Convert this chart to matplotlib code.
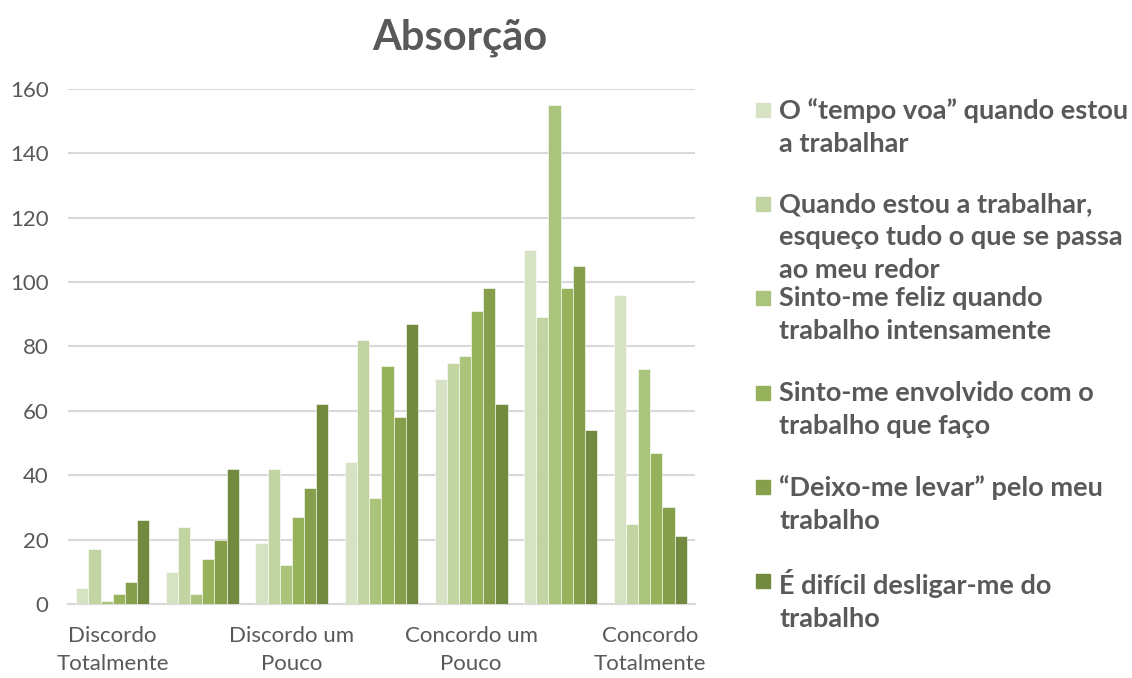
import matplotlib
matplotlib.use('Agg')
import matplotlib.pyplot as plt
import numpy as np

# Categories (only every other label is shown in the original)
tick_labels = ['Discordo\nTotalmente', '', 'Discordo um\nPouco', '',
               'Concordo um\nPouco', '', 'Concordo\nTotalmente']

series_names = [
    'O “tempo voa” quando estou\na trabalhar',
    'Quando estou a trabalhar,\nesqueço tudo o que se passa\nao meu redor',
    'Sinto-me feliz quando\ntrabalho intensamente',
    'Sinto-me envolvido com o\ntrabalho que faço',
    '“Deixo-me levar” pelo meu\ntrabalho',
    'É difícil desligar-me do\ntrabalho',
]

tempo_voa = [5, 10, 19, 44, 70, 110, 96]
esqueco_tudo = [17, 24, 42, 82, 75, 89, 25]
feliz = [1, 3, 12, 33, 77, 155, 73]
envolvido = [3, 14, 27, 74, 91, 98, 47]
deixo_levar = [7, 20, 36, 58, 98, 105, 30]
dificil_desligar = [26, 42, 62, 87, 62, 54, 21]

y_ticks = [0, 20, 40, 60, 80, 100, 120, 140, 160]

colors = ['#D7E1C3', '#C3D4A3', '#ABC47B', '#96B25A', '#859F4B', '#728A40']
text_gray = '#595959'
font = 'Lato'

series = [tempo_voa, esqueco_tudo, feliz, envolvido, deixo_levar, dificil_desligar]

fig = plt.figure(figsize=(11.32, 6.78), dpi=100)
ax = fig.add_axes([0.060, 0.109, 0.554, 0.760])

x = np.arange(len(tick_labels))
w = 0.815 / len(series)
for i, vals in enumerate(series):
    ax.bar(x + (i - 2.5) * w, vals, width=w, color=colors[i],
           edgecolor='white', linewidth=0.4, zorder=3)

ax.set_xlim(-0.5, len(tick_labels) - 0.5)
ax.set_ylim(0, 160)
ax.set_yticks(y_ticks)
ax.set_yticklabels([str(t) for t in y_ticks], fontsize=16, color=text_gray, family=font)
ax.set_xticks(x)
ax.set_xticklabels(tick_labels, fontsize=16, color=text_gray, family=font, linespacing=1.5)
ax.tick_params(axis='both', length=0)
ax.tick_params(axis='y', pad=14)
ax.tick_params(axis='x', pad=16)

ax.grid(axis='y', color='#D9D9D9', linewidth=1.5, zorder=0)
for s in ['top', 'right', 'left']:
    ax.spines[s].set_visible(False)
ax.spines['bottom'].set_color('#D9D9D9')
ax.spines['bottom'].set_linewidth(1.5)

fig.text(0.406, 0.945, 'Absorção', ha='center', va='center', fontsize=30,
         fontweight='bold', color=text_gray, family=font)

# legend drawn entry by entry, Excel style (fixed step per entry)
W, H = 1132, 678
for i, name in enumerate(series_names):
    yc = 110 + i * 94.2
    fig.patches.append(plt.Rectangle((756 / W, 1 - (yc + 7) / H), 14 / W, 14 / H,
                                     transform=fig.transFigure, color=colors[i]))
    fig.text(779 / W, 1 - (yc - 12) / H, name, ha='left', va='top', fontsize=19.5,
             fontweight='bold', color=text_gray, family=font, linespacing=1.45)

fig.savefig('out.png', dpi=100)
